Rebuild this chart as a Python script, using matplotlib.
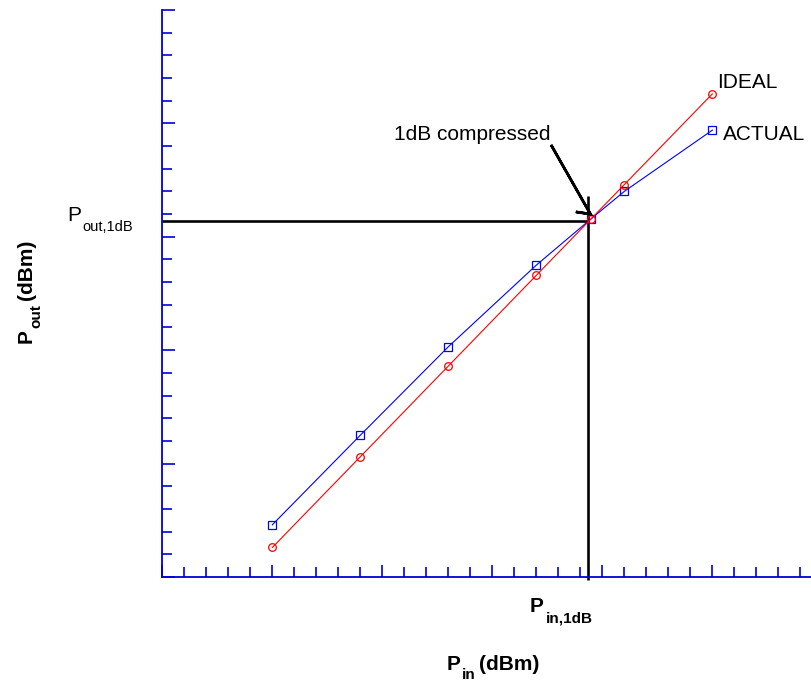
import numpy as np
import matplotlib.pyplot as plt
from matplotlib.ticker import MultipleLocator

plt.rcParams['font.family'] = ['Liberation Sans', 'DejaVu Sans']

# input power (dBm, arbitrary units) and output power for both curves
p_in = [5, 9, 13, 17, 19.5, 21, 25]
p_out_ideal = [1.3, 5.3, 9.3, 13.3, 15.8, 17.3, 21.3]
p_out_actual = [2.3, 6.25, 10.15, 13.75, 15.8, 17.0, 19.7]

# 1 dB compression point
p_in_1db = 19.35
p_out_1db = 15.7

fig = plt.figure(figsize=(8.12, 6.82), dpi=100)
ax = fig.add_axes([0.1999, 0.1540, 0.8001, 0.8314])
ax.set_xlim(0, 29.53)
ax.set_ylim(0, 25.0)

axis_blue = '#0000d8'
for side in ['top', 'right']:
    ax.spines[side].set_visible(False)
for side in ['left', 'bottom']:
    ax.spines[side].set_color(axis_blue)
    ax.spines[side].set_linewidth(1.3)

ax.xaxis.set_major_locator(MultipleLocator(5))
ax.xaxis.set_minor_locator(MultipleLocator(1))
ax.yaxis.set_major_locator(MultipleLocator(5))
ax.yaxis.set_minor_locator(MultipleLocator(1))
ax.tick_params(which='both', direction='in', colors=axis_blue, width=1.2,
               labelbottom=False, labelleft=False)
ax.tick_params(which='major', length=9)
ax.tick_params(which='minor', length=7)

# reference lines at the compression point
ax.plot([0, p_in_1db], [p_out_1db, p_out_1db], color='black', lw=1.9,
        solid_capstyle='butt', zorder=2)
ax.plot([p_in_1db, p_in_1db], [-0.15, 16.8], color='black', lw=1.9,
        solid_capstyle='butt', clip_on=False, zorder=2)

ax.plot(p_in, p_out_actual, color='blue', lw=0.8, marker='s', ms=5.5,
        mfc='none', mec='blue', mew=0.9, zorder=3)
ax.plot(p_in, p_out_ideal, color='red', lw=0.8, marker='o', ms=5.5,
        mfc='none', mec='red', mew=0.9, zorder=4)

ax.text(25.2, 21.78, 'IDEAL', fontsize=15, ha='left', va='center')
ax.text(25.5, 19.49, 'ACTUAL', fontsize=15, ha='left', va='center')

ax.text(14.1, 19.49, '1dB compressed', fontsize=15, ha='center', va='center')
# arrow with a single barb
ax.arrow(17.67, 19.05, 1.79, -3.05, width=0, head_width=1.05, head_length=0.42,
         shape='left', overhang=1, length_includes_head=True, fill=False,
         color='black', lw=1.9, joinstyle='miter', clip_on=False, zorder=5)


def sub_text(x, y, main, sub, transform, weight='normal', sub_size=10.5,
             drop=7.5, gap=0.5):
    t = ax.text(x, y, main, transform=transform, fontsize=15, fontweight=weight,
                ha='left', va='baseline', clip_on=False)
    s = ax.annotate(sub, xy=(1, y), xycoords=(t, transform), xytext=(gap, -drop),
                    textcoords='offset points', fontsize=sub_size,
                    fontweight=weight, ha='left', va='baseline')
    return s


sub_text(-4.3, p_out_1db, 'P', 'out,1dB', ax.transData)
sub_text(16.7, -1.55, 'P', 'in,1dB', ax.transData, weight='bold', sub_size=11,
         gap=1.5)

# x axis label
s = sub_text(0.438, -0.164, 'P', 'in', ax.transAxes, weight='bold',
             sub_size=11, drop=6.5)
ax.annotate('(dBm)', xy=(1, -0.164), xycoords=(s, ax.transAxes), xytext=(3, 0),
            textcoords='offset points', fontsize=15, fontweight='bold',
            ha='left', va='baseline')

# y axis label, rotated
yb_x, yb_y = -0.2011, 0.412
t = ax.text(yb_x, yb_y, 'P', transform=ax.transAxes, fontsize=15,
            fontweight='bold', rotation=90, rotation_mode='anchor',
            ha='left', va='baseline')
s = ax.annotate('out', xy=(yb_x, 1), xycoords=(ax.transAxes, t), xytext=(6.5, 1),
                textcoords='offset points', fontsize=11, fontweight='bold',
                rotation=90, rotation_mode='anchor', ha='left', va='baseline')
ax.annotate('(dBm)', xy=(yb_x, 1), xycoords=(ax.transAxes, s), xytext=(0, 3),
            textcoords='offset points', fontsize=15, fontweight='bold',
            rotation=90, rotation_mode='anchor', ha='left', va='baseline')

plt.savefig('out.png', dpi=100)
